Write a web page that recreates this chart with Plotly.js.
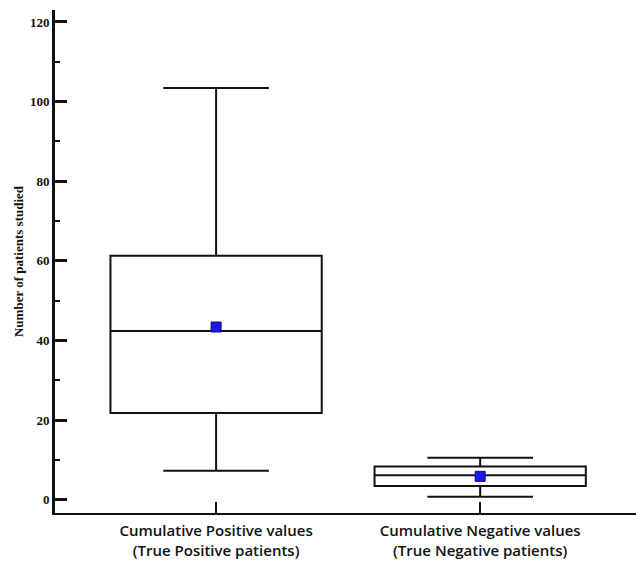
<!DOCTYPE html>
<html>
<head>
<meta charset="utf-8">
<script src="https://cdn.plot.ly/plotly-3.0.1.min.js"></script>
<style>html,body{margin:0;padding:0;background:#fff;}#chart{width:636px;height:565px;}</style>
</head>
<body>
<div id="chart"></div>
<script>
// Data
var categories = ["Cumulative Positive values<br>(True Positive patients)", "Cumulative Negative values<br>(True Negative patients)"];
var catIndex = [0, 1];
var lowerWhisker = [7.3, 0.8];
var q1Values = [21.8, 3.5];
var medianValues = [42.4, 6.2];
var q3Values = [61.3, 8.4];
var upperWhisker = [103.4, 10.6];
var meanValues = [43.4, 5.9];
var yTicks = [0, 20, 40, 60, 80, 100, 120];

var boxTrace = {
  type: 'box',
  x: catIndex,
  q1: q1Values,
  median: medianValues,
  q3: q3Values,
  lowerfence: lowerWhisker,
  upperfence: upperWhisker,
  width: 0.8,
  whiskerwidth: 0.5,
  fillcolor: 'rgba(255,255,255,0)',
  line: {color: '#111', width: 2},
  hoverinfo: 'skip',
  showlegend: false
};
var meanTrace = {
  type: 'scatter',
  mode: 'markers',
  x: catIndex,
  y: meanValues,
  marker: {symbol: 'square', size: 10, color: '#1a1ae6', line: {color: '#0a0a80', width: 1}},
  showlegend: false,
  hoverinfo: 'skip'
};

var layout = {
  width: 636, height: 565,
  margin: {l: 55, r: 0, t: 10, b: 52},
  paper_bgcolor: '#fff', plot_bgcolor: '#fff',
  showlegend: false,
  xaxis: {
    range: [-0.61, 1.59],
    tickvals: catIndex,
    ticktext: categories,
    ticks: 'inside', ticklen: 11, tickwidth: 2, tickcolor: '#111',
    ticklabelstandoff: 3,
    showline: true, linecolor: '#111', linewidth: 2,
    showgrid: false, zeroline: false,
    tickfont: {family: 'Open Sans, sans-serif', size: 15, color: '#111', weight: 600}
  },
  yaxis: {
    range: [-3.3, 123],
    tickvals: yTicks,
    ticks: 'inside', ticklen: 12, tickwidth: 3, tickcolor: '#111',
    minor: {dtick: 10, tick0: 0, ticks: 'inside', ticklen: 5, tickwidth: 2, tickcolor: '#111', showgrid: false},
    showline: true, linecolor: '#111', linewidth: 3,
    showgrid: false, zeroline: false,
    tickfont: {family: 'Liberation Serif, Times New Roman, serif', size: 13, color: '#111', weight: 'bold'},
    title: {text: '<b>Number of patients studied</b>', font: {family: 'Liberation Serif, Times New Roman, serif', size: 13, color: '#111'}, standoff: 4}
  }
};

Plotly.newPlot('chart', [boxTrace, meanTrace], layout, {displayModeBar: false, staticPlot: true});
</script>
</body>
</html>
